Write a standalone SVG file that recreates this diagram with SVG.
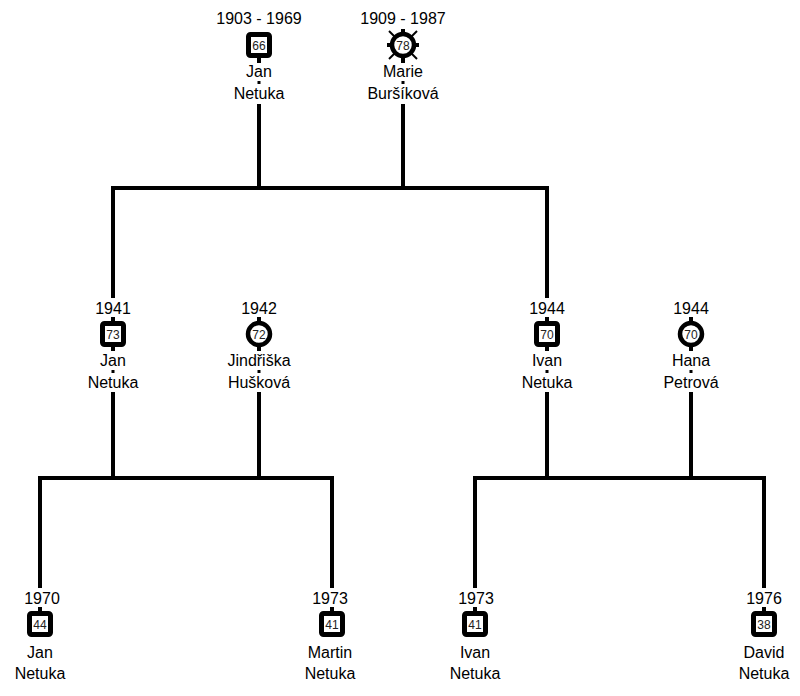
<svg xmlns="http://www.w3.org/2000/svg" width="800" height="696" viewBox="0 0 800 696">
<defs>
<style>
.ln{fill:none;stroke:#000;stroke-width:4;stroke-linejoin:miter;stroke-linecap:butt}
.t{font-family:"Liberation Sans",Arial,sans-serif;font-size:16px;fill:#000;text-anchor:middle}
.n{font-family:"Liberation Sans",Arial,sans-serif;font-size:12px;fill:#222;text-anchor:middle}
.sq{fill:#fff;stroke:#000;stroke-width:5}
.ci{fill:#fff;stroke:#000;stroke-width:4.5}
.stub{stroke:#000;stroke-width:4}
.x{stroke:#000;stroke-width:2}
</style>
</defs>
<rect width="800" height="696" fill="#fff"/>
<g id="connectors">
<polyline class="ln" points="259,104 259,188"/>
<polyline class="ln" points="403,104 403,188"/>
<polyline class="ln" points="113,298 113,188 547,188 547,298"/>
<polyline class="ln" points="113,392 113,478"/>
<polyline class="ln" points="259,392 259,478"/>
<polyline class="ln" points="40,588 40,478 332,478 332,588"/>
<polyline class="ln" points="547,392 547,478"/>
<polyline class="ln" points="691,392 691,478"/>
<polyline class="ln" points="475,588 475,478 764,478 764,588"/>
</g>
<g id="n-jan-1903">
<text class="t" x="259" y="24">1903 - 1969</text>
<line class="stub" x1="259" y1="56" x2="259" y2="63"/>
<rect class="sq" x="248.5" y="34.5" width="21" height="21" rx="2"/>
<text class="n" x="259" y="49.5">66</text>
<text class="t" x="259" y="77">Jan</text>
<rect x="257.5" y="81" width="3" height="3"/>
<text class="t" x="259" y="99">Netuka</text>
</g>
<g id="n-marie-1909">
<text class="t" x="403" y="24">1909 - 1987</text>
<line class="x" x1="389" y1="31" x2="417" y2="59"/>
<line class="x" x1="417" y1="31" x2="389" y2="59"/>
<line class="stub" x1="403" y1="29" x2="403" y2="34"/>
<line class="stub" x1="403" y1="56" x2="403" y2="63"/>
<line class="stub" x1="387" y1="45" x2="392" y2="45"/>
<line class="stub" x1="414" y1="45" x2="419" y2="45"/>
<circle class="ci" cx="403" cy="45" r="11"/>
<text class="n" x="403" y="49.5">78</text>
<text class="t" x="403" y="77">Marie</text>
<rect x="401.5" y="81" width="3" height="3"/>
<text class="t" x="403" y="99">Buršíková</text>
</g>
<g id="n-jan-1941">
<text class="t" x="113" y="314">1941</text>
<line class="stub" x1="113" y1="317" x2="113" y2="351"/>
<rect class="sq" x="102.5" y="323.5" width="21" height="21" rx="2"/>
<text class="n" x="113" y="338.5">73</text>
<text class="t" x="113" y="366">Jan</text>
<rect x="111.5" y="370" width="3" height="3"/>
<text class="t" x="113" y="388">Netuka</text>
</g>
<g id="n-jindriska-1942">
<text class="t" x="259" y="314">1942</text>
<line class="stub" x1="259" y1="317" x2="259" y2="351"/>
<circle class="ci" cx="259" cy="334" r="11"/>
<text class="n" x="259" y="338.5">72</text>
<text class="t" x="259" y="366">Jindřiška</text>
<rect x="257.5" y="370" width="3" height="3"/>
<text class="t" x="259" y="388">Hušková</text>
</g>
<g id="n-ivan-1944">
<text class="t" x="547" y="314">1944</text>
<line class="stub" x1="547" y1="317" x2="547" y2="351"/>
<rect class="sq" x="536.5" y="323.5" width="21" height="21" rx="2"/>
<text class="n" x="547" y="338.5">70</text>
<text class="t" x="547" y="366">Ivan</text>
<rect x="545.5" y="370" width="3" height="3"/>
<text class="t" x="547" y="388">Netuka</text>
</g>
<g id="n-hana-1944">
<text class="t" x="691" y="314">1944</text>
<line class="stub" x1="691" y1="317" x2="691" y2="351"/>
<circle class="ci" cx="691" cy="334" r="11"/>
<text class="n" x="691" y="338.5">70</text>
<text class="t" x="691" y="366">Hana</text>
<rect x="689.5" y="370" width="3" height="3"/>
<text class="t" x="691" y="388">Petrová</text>
</g>
<g id="n-jan-1970">
<text class="t" x="42" y="604">1970</text>
<line class="stub" x1="40" y1="607" x2="40" y2="615"/>
<rect class="sq" x="29.5" y="613.5" width="21" height="21" rx="2"/>
<text class="n" x="40" y="628.5">44</text>
<text class="t" x="40" y="658">Jan</text>
<text class="t" x="40" y="679">Netuka</text>
</g>
<g id="n-martin-1973">
<text class="t" x="330" y="604">1973</text>
<line class="stub" x1="332" y1="607" x2="332" y2="615"/>
<rect class="sq" x="321.5" y="613.5" width="21" height="21" rx="2"/>
<text class="n" x="332" y="628.5">41</text>
<text class="t" x="330" y="658">Martin</text>
<text class="t" x="330" y="679">Netuka</text>
</g>
<g id="n-ivan-1973">
<text class="t" x="476" y="604">1973</text>
<line class="stub" x1="475" y1="607" x2="475" y2="615"/>
<rect class="sq" x="464.5" y="613.5" width="21" height="21" rx="2"/>
<text class="n" x="475" y="628.5">41</text>
<text class="t" x="475" y="658">Ivan</text>
<text class="t" x="475" y="679">Netuka</text>
</g>
<g id="n-david-1976">
<text class="t" x="764" y="604">1976</text>
<line class="stub" x1="764" y1="607" x2="764" y2="615"/>
<rect class="sq" x="753.5" y="613.5" width="21" height="21" rx="2"/>
<text class="n" x="764" y="628.5">38</text>
<text class="t" x="764" y="658">David</text>
<text class="t" x="764" y="679">Netuka</text>
</g>
</svg>
